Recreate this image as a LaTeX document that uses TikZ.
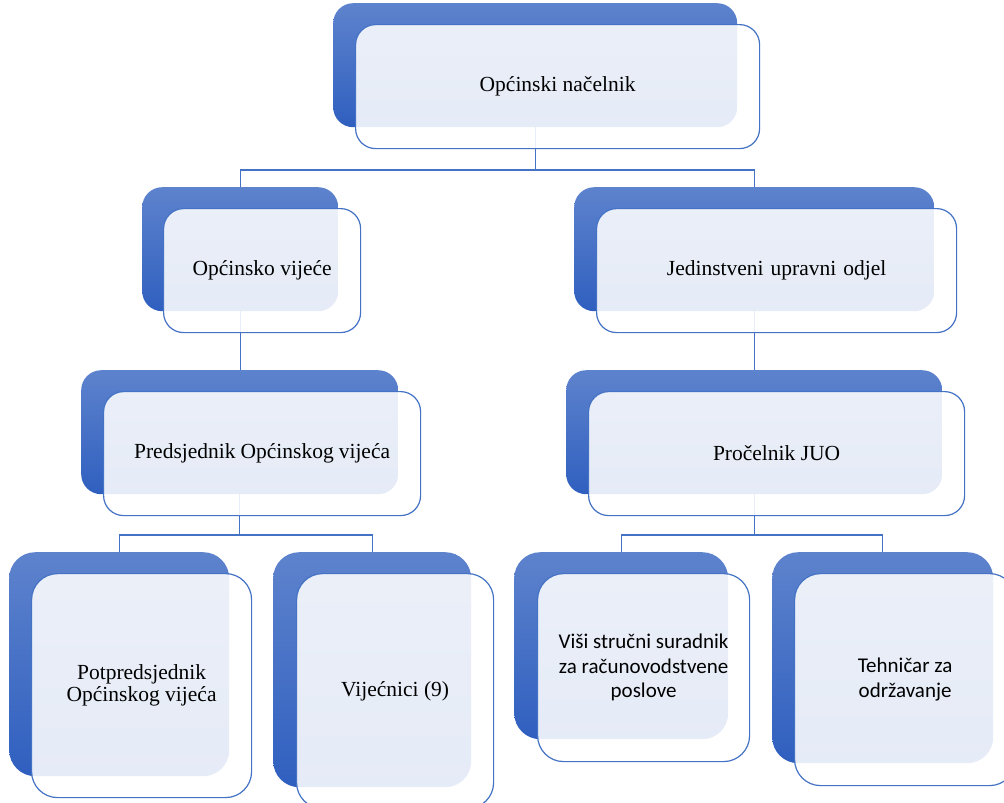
\documentclass[tikz,border=0pt]{standalone}
\usepackage{fontspec}
\setmainfont{Liberation Serif}
\newfontfamily\calib{Carlito}
\definecolor{topc}{HTML}{5E83CD}
\definecolor{botc}{HTML}{2F5FBF}
\definecolor{edgec}{HTML}{4472C4}
\begin{document}
\begin{tikzpicture}[x=1pt,y=-1pt,
  backbox/.style={rectangle, inner sep=0pt, anchor=north west, rounded corners=20pt,
    top color=topc, bottom color=botc, draw=none},
  frontbox/.style={rectangle, inner sep=0pt, anchor=north west, rounded corners=20pt,
    draw=edgec, line width=1.2pt, fill=white, fill opacity=0.88, text opacity=1,
    align=center, font=\fontsize{21.5}{22}\selectfont},
  sansbox/.style={frontbox, font=\calib\fontsize{21}{24.5}\selectfont},
  bigr/.style={rounded corners=26pt},
  conn/.style={draw=edgec, line width=1.3pt}]
\useasboundingbox (0,0) rectangle (1004,803);
\clip (0,0) rectangle (1004,803);
\fill[white] (0,0) rectangle (1004,803);
% back boxes
\node[backbox, minimum width=404pt, minimum height=124pt] (b1) at (333,3) {};
\node[backbox, minimum width=196pt, minimum height=124pt] (b2l) at (142,187) {};
\node[backbox, minimum width=360pt, minimum height=124pt] (b2r) at (574,187) {};
\node[backbox, minimum width=317pt, minimum height=124pt] (b3l) at (81,370) {};
\node[backbox, minimum width=376pt, minimum height=124pt] (b3r) at (566,370) {};
\node[backbox, bigr, minimum width=220pt, minimum height=224pt] (b4a) at (9,552) {};
\node[backbox, bigr, minimum width=198pt, minimum height=235pt] (b4b) at (273,552) {};
\node[backbox, bigr, minimum width=214pt, minimum height=187pt] (b4c) at (514,552) {};
\node[backbox, bigr, minimum width=221pt, minimum height=211pt] (b4d) at (772,552) {};
% connectors
\coordinate (bus1) at (0,170);
\coordinate (bus2) at (0,535);
\draw[conn] (b1.south) -- (b1.south |- bus1) -| (b2l.north);
\draw[conn] (b1.south |- bus1) -| (b2r.north);
\draw[conn] (b2l.south) -- (b2l.south |- b3l.north);
\draw[conn] (b2r.south) -- (b3r.north);
\draw[conn] (b3l.south) -- (b3l.south |- bus2) -| (b4a.north);
\draw[conn] (b3l.south |- bus2) -| (b4b.north);
\draw[conn] (b3r.south) -- (b3r.south |- bus2) -| (b4c.north);
\draw[conn] (b3r.south |- bus2) -| (b4d.north);
% front boxes
\node[frontbox, minimum width=404pt, minimum height=124pt] (f1) at (355,24) {Općinski načelnik};
\node[frontbox, minimum width=197pt, minimum height=124pt] (f2l) at (163,208) {Općinsko vijeće};
\node[frontbox, minimum width=360pt, minimum height=124pt] (f2r) at (596,208) {Jedinstveni\hspace{7pt}upravni\hspace{7pt}odjel};
\node[frontbox, minimum width=317pt, minimum height=124pt] (f3l) at (103,391) {Predsjednik\hspace{5pt}Općinskog\hspace{5pt}vijeća};
\node[frontbox, minimum width=376pt, minimum height=124pt] (f3r) at (588,391) {Pročelnik JUO};
\node[frontbox, bigr, minimum width=220pt, minimum height=224pt] (f4a) at (31,573) {Potpredsjednik\\Općinskog vijeća};
\node[frontbox, bigr, minimum width=197pt, minimum height=235pt] (f4b) at (296,573) {Vijećnici (9)};
\node[sansbox, bigr, minimum width=212pt, minimum height=188pt] (f4c) at (537,573) {Viši stručni suradnik\\za računovodstvene\\poslove};
\node[sansbox, bigr, minimum width=221pt, minimum height=212pt] (f4d) at (794,573) {Tehničar za\\održavanje};
\end{tikzpicture}
\end{document}
